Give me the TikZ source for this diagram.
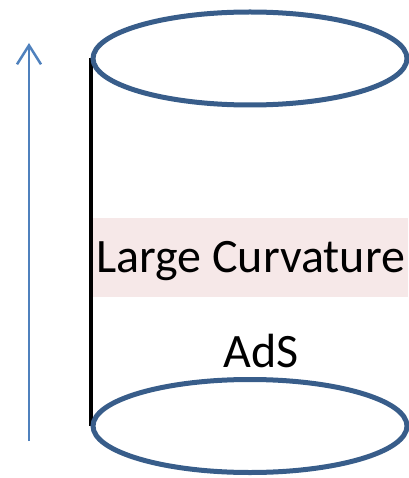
\documentclass[tikz,border=0pt]{standalone}
\usepackage{fontspec}
\setmainfont{Carlito}
\usetikzlibrary{shapes.geometric,arrows.meta,positioning,backgrounds}
\definecolor{rimcolor}{RGB}{56,93,138}
\definecolor{timecolor}{RGB}{79,129,189}
\definecolor{bandcolor}{RGB}{246,232,232}

\tikzset{
  rim/.style={draw=rimcolor, line width=5pt, shape=ellipse, inner sep=0pt,
    minimum width=314pt, minimum height=93pt},
  label/.style={font=\fontsize{48}{52}\selectfont, inner sep=0pt}
}

\begin{document}
\begin{tikzpicture}[x=1pt,y=-1pt]
\useasboundingbox (0,0) rectangle (408,478);

% time direction
\coordinate (tstart) at (29,441);
\coordinate (tend) at (29,43);
\draw[timecolor, line width=2.5pt, -{Straight Barb[length=19pt,width=24pt,line width=2.5pt]}] (tstart) -- (tend);

% highlighted band with its label
\node[label, fill=bandcolor, minimum width=315pt,
  text height=54pt, text depth=25pt] (band) at (250.5,257.5) {Large Curvature};

% boundary of the cylinder
\node[rim] (top) at (250,58.5) {};
\node[rim] (bottom) at (250,426) {};
\begin{scope}[on background layer]
  \draw[black, line width=4pt] (top.center -| top.west) -- (bottom.center -| bottom.west);
\end{scope}

\node[label, anchor=base] (ads) at (261,367) {AdS};
\end{tikzpicture}
\end{document}
